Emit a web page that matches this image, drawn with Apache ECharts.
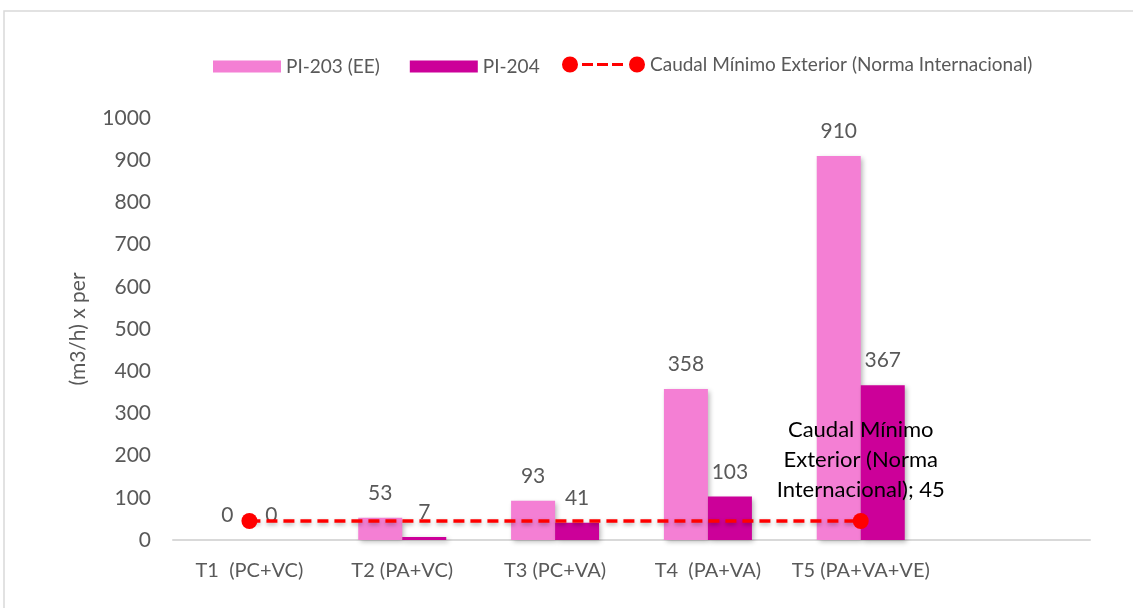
<!DOCTYPE html>
<html>
<head>
<meta charset="utf-8">
<script src="https://cdn.jsdelivr.net/npm/echarts@6/dist/echarts.min.js"></script>
<style>
  html, body { margin: 0; padding: 0; background: #fff; }
  #main { width: 1133px; height: 608px; }
</style>
</head>
<body>
<div id="main"></div>
<script>
// data
var categories = ["T1  (PC+VC)", "T2 (PA+VC)", "T3 (PC+VA)", "T4  (PA+VA)", "T5 (PA+VA+VE)", ""];
var pi203 = [0, 53, 93, 358, 910];
var pi204 = [0, 7, 41, 103, 367];
var caudalMin = [45, null, null, null, 45];
var yTicks = { min: 0, max: 1000, interval: 100 };

var myChart = echarts.init(document.getElementById("main"));

var fontFam = "Lato, 'Open Sans', sans-serif";
var grayText = "#595959";
var lineName = "Caudal Mínimo Exterior (Norma Internacional)";
var barShadow = {
    shadowBlur: 5,
    shadowColor: "rgba(0,0,0,0.3)",
    shadowOffsetX: 2,
    shadowOffsetY: 2,
};
// legend glyph for the line: dot, dashes, dot
var lineIcon = "path://M0,8A8,8 0 1,1 16,8A8,8 0 1,1 0,8Z" +
    "M20,6.5h11v3h-11Z M35,6.5h11v3h-11Z M50,6.5h11v3h-11Z" +
    "M67,8A8,8 0 1,1 83,8A8,8 0 1,1 67,8Z";

var option = {
    animation: false,
    backgroundColor: "#fff",
    textStyle: { fontFamily: fontFam },
    graphic: [
        {
            type: "rect",
            shape: { x: 4, y: 11, width: 1140, height: 610 },
            style: { fill: "none", stroke: "#d9d9d9", lineWidth: 1.5 },
        },
    ],
    legend: [
        {
            top: 52,
            left: 208,
            itemWidth: 68,
            itemHeight: 12,
            itemGap: 30,
            textStyle: { color: grayText, fontSize: 19, fontFamily: fontFam },
            data: [
                { name: "PI-203 (EE)", icon: "rect" },
                { name: "PI-204", icon: "rect" },
            ],
        },
        {
            top: 50,
            left: 557,
            itemWidth: 83,
            itemHeight: 16,
            textStyle: { color: grayText, fontSize: 19, fontFamily: fontFam },
            data: [{ name: lineName, icon: lineIcon }],
        },
    ],
    grid: { left: 173, right: 43, top: 118, bottom: 68 },
    xAxis: {
        type: "category",
        data: categories,
        axisLine: { lineStyle: { color: "#d9d9d9", width: 2 } },
        axisTick: { show: false },
        axisLabel: {
            interval: 0,
            color: grayText,
            fontSize: 20,
            margin: 21,
            fontFamily: fontFam,
        },
    },
    yAxis: {
        type: "value",
        min: yTicks.min,
        max: yTicks.max,
        interval: yTicks.interval,
        name: "(m3/h) x per",
        nameLocation: "middle",
        nameGap: 84,
        nameTextStyle: { color: grayText, fontSize: 21, fontFamily: fontFam },
        axisLine: { show: false },
        axisTick: { show: false },
        splitLine: { show: false },
        axisLabel: {
            color: grayText,
            fontSize: 21,
            margin: 22,
            fontFamily: fontFam,
            formatter: function (v) { return String(v); },
        },
    },
    series: [
        {
            name: "PI-203 (EE)",
            type: "bar",
            data: pi203,
            barWidth: 44,
            barGap: "0%",
            itemStyle: Object.assign({ color: "#f47fd4" }, barShadow),
            label: {
                show: true,
                position: "top",
                distance: 14,
                color: grayText,
                fontSize: 21,
                fontFamily: fontFam,
            },
        },
        {
            name: "PI-204",
            type: "bar",
            data: pi204,
            barWidth: 44,
            barGap: "0%",
            itemStyle: Object.assign({ color: "#cc0099" }, barShadow),
            label: {
                show: true,
                position: "top",
                distance: 14,
                color: grayText,
                fontSize: 21,
                fontFamily: fontFam,
            },
        },
        {
            name: lineName,
            type: "line",
            data: caudalMin,
            connectNulls: true,
            symbol: "circle",
            symbolSize: 16,
            z: 5,
            lineStyle: {
                color: "#ff0000",
                width: 3.5,
                type: [11, 6],
                shadowBlur: 4,
                shadowColor: "rgba(0,0,0,0.3)",
                shadowOffsetY: 2,
            },
            itemStyle: { color: "#ff0000" },
            label: {
                show: true,
                position: "top",
                distance: 8,
                color: "#000",
                fontSize: 22,
                lineHeight: 30,
                fontFamily: fontFam,
                formatter: function (p) {
                    if (p.dataIndex !== 4) return "";
                    return "Caudal Mínimo\nExterior (Norma\nInternacional); " + p.value;
                },
            },
        },
    ],
};

myChart.setOption(option);
</script>
</body>
</html>
